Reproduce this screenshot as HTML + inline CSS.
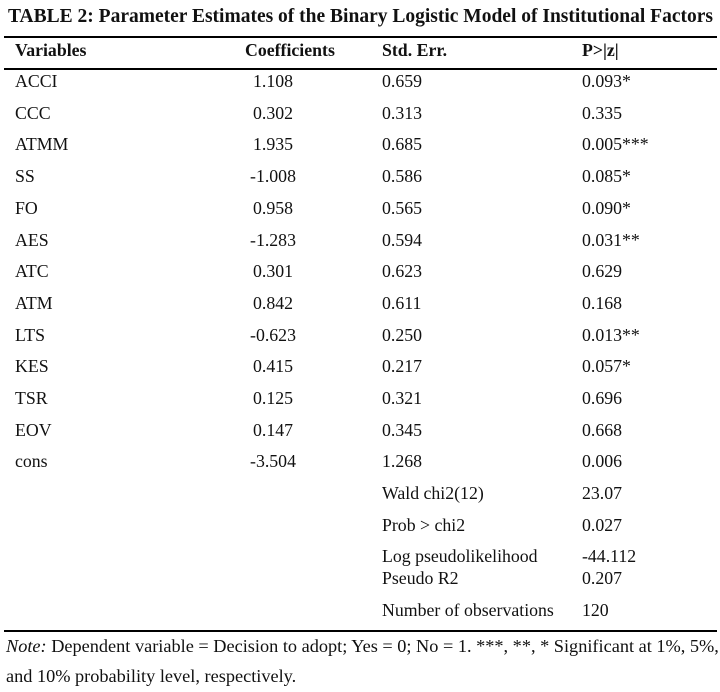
<!DOCTYPE html>
<html><head><meta charset="utf-8"><style>
body{margin:0;width:720px;height:692px;background:#fff;position:relative;font-family:"Liberation Serif",serif;color:#111;overflow:hidden}
div.t{position:absolute;font-size:17.8px;line-height:20px;white-space:nowrap}
.l{position:absolute;left:4px;width:713px;height:1.5px;background:#000}
</style></head><body>
<div class="t" style="left:8px;top:7px;font-size:19.5px;font-weight:bold">TABLE 2: Parameter Estimates of the Binary Logistic Model of Institutional Factors</div>
<div class="l" style="top:36px"></div>
<div class="t" style="left:15px;top:40px;font-weight:bold">Variables</div>
<div class="t" style="left:245px;top:40px;font-weight:bold">Coefficients</div>
<div class="t" style="left:382px;top:40px;font-weight:bold">Std. Err.</div>
<div class="t" style="left:582px;top:40px;font-weight:bold">P&gt;|z|</div>
<div class="l" style="top:68px"></div>
<div id="rows"></div>
<div class="l" style="top:630px"></div>
<div class="t" style="left:6px;top:636px;font-size:18.3px"><i>Note:</i> Dependent variable = Decision to adopt; Yes = 0; No = 1. ***, **, * Significant at 1%, 5%,</div>
<div class="t" style="left:6px;top:666px;font-size:18.3px">and 10% probability level, respectively.</div>
<script>
var r=[["ACCI","1.108","0.659","0.093*"],["CCC","0.302","0.313","0.335"],["ATMM","1.935","0.685","0.005***"],["SS","-1.008","0.586","0.085*"],["FO","0.958","0.565","0.090*"],["AES","-1.283","0.594","0.031**"],["ATC","0.301","0.623","0.629"],["ATM","0.842","0.611","0.168"],["LTS","-0.623","0.250","0.013**"],["KES","0.415","0.217","0.057*"],["TSR","0.125","0.321","0.696"],["EOV","0.147","0.345","0.668"],["cons","-3.504","1.268","0.006"]];
var h="";
r.forEach(function(a,i){var y=71+i*31.7;
h+='<div class="t" style="left:233px;width:80px;text-align:center;top:'+y+'px">'+a[1]+'</div>';
h+='<div class="t" style="left:15px;top:'+y+'px">'+a[0]+'</div>';
h+='<div class="t" style="left:382px;top:'+y+'px">'+a[2]+'</div>';
h+='<div class="t" style="left:582px;top:'+y+'px">'+a[3]+'</div>';});
var e=[[483,"Wald chi2(12)","23.07"],[515,"Prob &gt; chi2","0.027"],[546,"Log pseudolikelihood","-44.112"],[568,"Pseudo R2","0.207"],[600,"Number of observations","120"]];
e.forEach(function(a){h+='<div class="t" style="left:382px;top:'+a[0]+'px">'+a[1]+'</div><div class="t" style="left:582px;top:'+a[0]+'px">'+a[2]+'</div>';});
document.getElementById("rows").innerHTML=h;
</script>
</body></html>
